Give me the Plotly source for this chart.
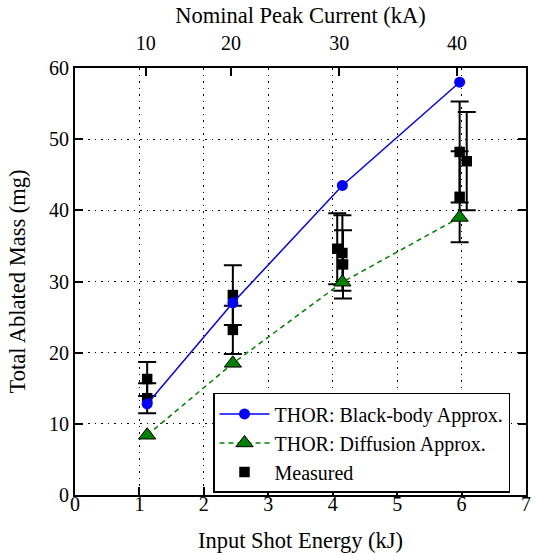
import plotly.graph_objects as go

# ---- data ----
model_x = [1.12, 2.45, 4.15, 5.97]
blackbody_y = [12.8, 27.0, 43.5, 58.0]
diffusion_y = [8.4, 18.5, 29.9, 39.0]

meas_x = [1.12, 1.12, 2.45, 2.45, 4.07, 4.15, 4.16, 5.97, 6.08, 5.97]
meas_y = [16.3, 13.6, 28.1, 23.2, 34.6, 34.0, 32.4, 48.2, 46.9, 41.9]
meas_err = [2.4, 2.1, 4.2, 3.4, 5.0, 5.3, 4.8, 7.1, 6.9, 6.4]

x_ticks = [0, 1, 2, 3, 4, 5, 6, 7]
y_ticks = [0, 10, 20, 30, 40, 50, 60]
top_tickvals = [1.10, 2.42, 4.10, 5.93]
top_ticktext = ["10", "20", "30", "40"]

FONT = "Liberation Serif"

fig = go.Figure()

fig.add_trace(go.Scatter(
    x=meas_x, y=meas_y, mode="markers", name="Measured",
    marker=dict(symbol="square", size=10.5, color="black"),
    error_y=dict(type="data", array=meas_err, visible=True, color="black",
                 thickness=2, width=9),
    legendrank=3,
))
fig.add_trace(go.Scatter(
    x=model_x, y=blackbody_y, mode="lines+markers", name="THOR: Black-body Approx.",
    line=dict(color="blue", width=1.5),
    marker=dict(symbol="circle", size=11, color="blue"),
    legendrank=1,
))
fig.add_trace(go.Scatter(
    x=model_x, y=diffusion_y, mode="lines+markers", name="THOR: Diffusion Approx.",
    line=dict(color="green", width=1.5, dash="5px,4px"),
    marker=dict(symbol="triangle-up", size=15, color="green",
                line=dict(color="black", width=1)),
    legendrank=2,
))
# invisible trace to activate the top axis
fig.add_trace(go.Scatter(x=[0, 7], y=[None, None], xaxis="x2", mode="markers",
                         showlegend=False, hoverinfo="skip"))

axis_common = dict(
    showline=True, linecolor="black", linewidth=2,
    ticks="inside", ticklen=8, tickwidth=1.5, tickcolor="black",
    tickfont=dict(family=FONT, size=20, color="black"),
    zeroline=False, automargin=False,
)
TITLE_FONT = dict(family=FONT, size=22.5, color="black")
GRID = dict(showgrid=True, gridcolor="black", griddash="1.5px,5px", gridwidth=1.3)

fig.update_layout(
    width=537, height=553,
    margin=dict(l=75, r=11, t=68, b=58),
    paper_bgcolor="white", plot_bgcolor="white",
    font=dict(family=FONT, color="black"),
    xaxis=dict(range=[0, 7], tickvals=x_ticks, mirror=True, ticklabelstandoff=-10,
               title=dict(text="Input Shot Energy (kJ)", font=TITLE_FONT, standoff=20),
               **GRID, **axis_common),
    yaxis=dict(range=[0, 60], tickvals=y_ticks, mirror="ticks",
               title=dict(text="Total Ablated Mass (mg)", font=TITLE_FONT, standoff=17),
               **GRID, **axis_common),
    xaxis2=dict(range=[0, 7], overlaying="x", side="top", anchor="y",
                tickvals=top_tickvals, ticktext=top_ticktext, showgrid=False,
                ticklabelstandoff=8,
                title=dict(text="Nominal Peak Current (kA)", font=TITLE_FONT, standoff=2),
                **axis_common),
    legend=dict(x=0.306, y=0.239, xanchor="left", yanchor="top",
                bordercolor="black", borderwidth=1.5, bgcolor="white",
                font=dict(family=FONT, size=20, color="black"),
                itemwidth=50, tracegroupgap=0),
    showlegend=True,
)

fig.write_html("out.html")
